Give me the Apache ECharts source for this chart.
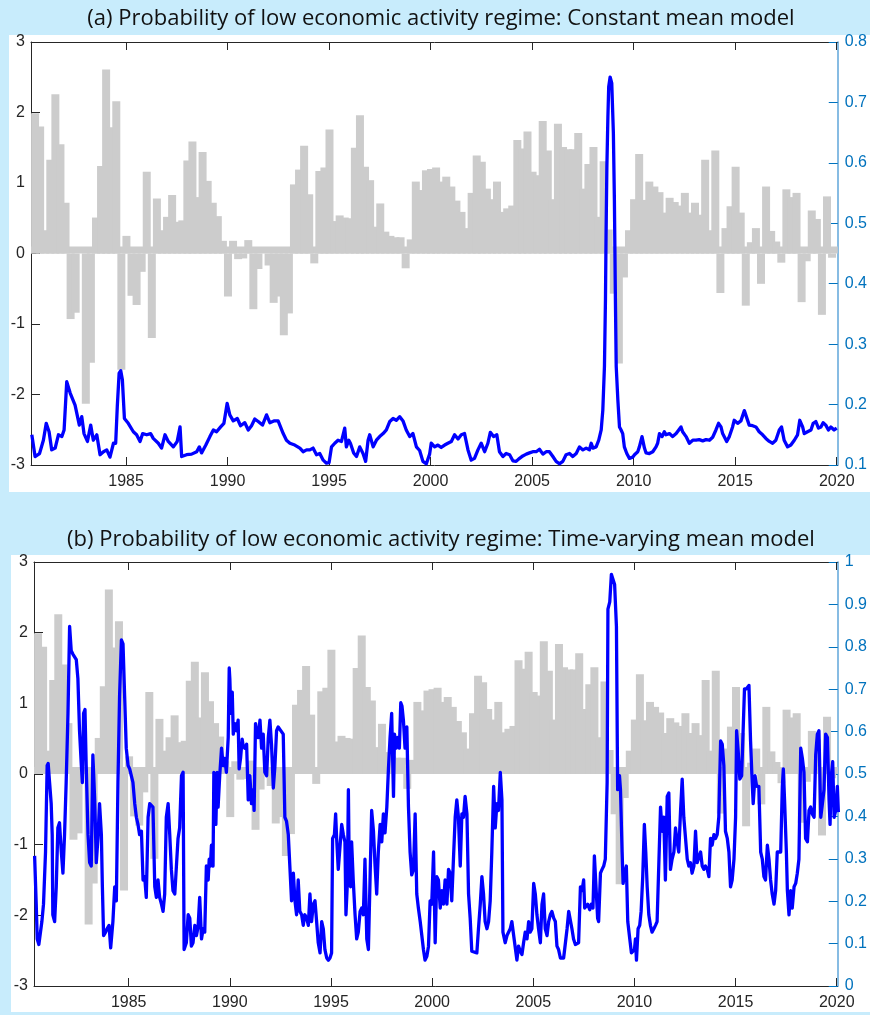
<!DOCTYPE html>
<html>
<head>
<meta charset="utf-8">
<script src="https://cdn.jsdelivr.net/npm/echarts@6/dist/echarts.min.js"></script>
<style>
html, body { margin: 0; padding: 0; background: #c8ecfc; }
#bgA { position: absolute; left: 9px; top: 35px; width: 861px; height: 457px; background: #fff; }
#bgB { position: absolute; left: 11px; top: 555px; width: 859px; height: 457px; background: #fff; }
#main { position: absolute; left: 0; top: 0; width: 870px; height: 1015px; }
</style>
</head>
<body>
<div id="bgA"></div>
<div id="bgB"></div>
<div id="main"></div>
<script>
// quarterly bars (left axis), first bar centre and spacing in years
var barStart = 1980.52;
var barStep = 0.25;
var barValues = [
  1.99, 1.80, 0.33, 1.33, 2.26, 1.55, 0.72, -0.93, -0.84, 0.00,
  -2.13, -1.55, 0.51, 1.24, 2.61, 1.79, 2.16, -1.65, 0.25, -0.60,
  -0.73, -0.26, 1.16, -1.20, 0.78, 0.33, 0.52, 0.83, 0.45, 0.47,
  1.32, 1.59, 0.80, 1.44, 1.03, 0.72, 0.53, 0.18, -0.61, 0.18,
  -0.08, -0.07, 0.19, -0.79, -0.22, 0.00, -0.17, -0.70, -0.61, -1.16,
  -0.85, 0.98, 1.19, 1.53, 0.84, -0.14, 1.17, 1.22, 1.76, 0.46,
  0.54, 0.51, 0.50, 1.50, 1.96, 1.23, 1.04, 0.38, 0.71, 0.31,
  0.25, 0.23, 0.23, -0.21, 0.20, 1.02, 0.90, 1.18, 1.20, 1.22,
  1.02, 1.09, 0.95, 0.75, 0.59, 0.36, 0.86, 1.39, 1.30, 0.92,
  0.77, 1.02, 0.59, 0.64, 0.68, 1.61, 1.49, 1.73, 1.16, 1.11,
  1.88, 1.46, 0.77, 1.84, 1.51, 1.48, 1.48, 1.71, 0.92, 1.27,
  1.51, 0.52, 1.31, 0.34, -0.57, -1.56, -0.34, 0.33, 0.77, 1.41,
  0.76, 1.02, 0.95, 0.87, 0.58, 0.79, 0.73, 0.68, 0.86, 0.58,
  0.72, 0.55, 1.33, 0.33, 1.46, -0.56, 0.36, 0.67, 1.23, 0.58,
  -0.74, 0.16, 0.36, -0.43, 0.95, 0.32, 0.17, -0.13, 0.91, 0.80,
  0.86, -0.69, -0.11, 0.61, 0.49, -0.87, 0.81, -0.06
];

// probability, constant mean model (right axis, panel a)
var probConst = [
  [1980.36,0.150],[1980.52,0.114],[1980.74,0.119],[1980.93,0.141],[1981.07,0.169],[1981.21,0.155],[1981.34,0.125],[1981.51,0.128],[1981.67,0.150],[1981.84,0.147],
  [1981.95,0.158],[1982.08,0.238],[1982.25,0.219],[1982.49,0.199],[1982.70,0.166],[1982.82,0.180],[1982.93,0.152],[1983.10,0.139],[1983.26,0.166],[1983.39,0.141],
  [1983.56,0.150],[1983.72,0.117],[1983.89,0.122],[1984.05,0.125],[1984.21,0.113],[1984.38,0.136],[1984.49,0.136],[1984.57,0.197],[1984.66,0.252],[1984.74,0.256],
  [1984.82,0.241],[1984.92,0.177],[1985.11,0.169],[1985.36,0.155],[1985.52,0.150],[1985.69,0.139],[1985.82,0.152],[1986.02,0.150],[1986.21,0.152],[1986.34,0.144],
  [1986.59,0.136],[1986.75,0.128],[1986.92,0.150],[1987.00,0.152],[1987.08,0.139],[1987.33,0.130],[1987.52,0.139],[1987.66,0.163],[1987.74,0.114],[1987.98,0.117],
  [1988.23,0.118],[1988.48,0.122],[1988.61,0.130],[1988.72,0.120],[1988.93,0.133],[1989.13,0.147],[1989.30,0.158],[1989.46,0.155],[1989.66,0.163],[1989.82,0.169],
  [1989.98,0.202],[1990.11,0.183],[1990.28,0.173],[1990.48,0.177],[1990.64,0.165],[1990.85,0.170],[1991.02,0.158],[1991.18,0.165],[1991.34,0.176],[1991.51,0.172],
  [1991.72,0.166],[1991.92,0.183],[1992.08,0.170],[1992.28,0.173],[1992.49,0.173],[1992.74,0.152],[1992.90,0.141],[1993.07,0.136],[1993.31,0.133],[1993.56,0.128],
  [1993.72,0.122],[1993.89,0.125],[1994.05,0.125],[1994.21,0.128],[1994.38,0.117],[1994.54,0.119],[1994.71,0.108],[1994.87,0.103],[1995.00,0.104],[1995.12,0.130],
  [1995.28,0.136],[1995.44,0.141],[1995.61,0.139],[1995.77,0.161],[1995.85,0.130],[1995.97,0.141],[1996.05,0.136],[1996.21,0.120],[1996.35,0.114],[1996.51,0.130],
  [1996.67,0.119],[1996.80,0.106],[1996.92,0.141],[1997.00,0.150],[1997.17,0.130],[1997.33,0.141],[1997.49,0.147],[1997.66,0.152],[1997.82,0.158],[1997.99,0.172],
  [1998.15,0.177],[1998.31,0.174],[1998.48,0.180],[1998.64,0.173],[1998.80,0.158],[1998.97,0.147],[1999.13,0.152],[1999.30,0.130],[1999.46,0.124],[1999.62,0.106],
  [1999.79,0.102],[1999.95,0.118],[2000.03,0.136],[2000.20,0.130],[2000.36,0.133],[2000.52,0.129],[2000.69,0.133],[2000.85,0.136],[2001.02,0.139],[2001.18,0.150],
  [2001.35,0.143],[2001.51,0.150],[2001.67,0.152],[2001.84,0.125],[2002.00,0.108],[2002.16,0.111],[2002.33,0.125],[2002.49,0.136],[2002.66,0.122],[2002.82,0.136],
  [2002.94,0.154],[2003.10,0.147],[2003.26,0.150],[2003.39,0.122],[2003.56,0.114],[2003.72,0.119],[2003.89,0.117],[2004.05,0.107],[2004.21,0.106],[2004.38,0.111],
  [2004.54,0.115],[2004.71,0.118],[2004.87,0.120],[2005.03,0.122],[2005.20,0.122],[2005.36,0.126],[2005.53,0.118],[2005.69,0.122],[2005.85,0.122],[2006.02,0.114],
  [2006.18,0.106],[2006.34,0.102],[2006.51,0.106],[2006.67,0.117],[2006.84,0.119],[2007.00,0.114],[2007.17,0.119],[2007.33,0.130],[2007.50,0.125],[2007.66,0.128],
  [2007.82,0.125],[2007.91,0.136],[2007.99,0.128],[2008.15,0.130],[2008.28,0.141],[2008.40,0.158],[2008.48,0.191],[2008.56,0.263],[2008.61,0.373],[2008.64,0.483],
  [2008.68,0.594],[2008.73,0.676],[2008.77,0.726],[2008.84,0.742],[2008.92,0.732],[2009.00,0.649],[2009.05,0.539],[2009.10,0.373],[2009.14,0.263],[2009.22,0.208],
  [2009.30,0.163],[2009.38,0.158],[2009.46,0.152],[2009.54,0.130],[2009.66,0.119],[2009.79,0.111],[2009.87,0.108],[2009.95,0.113],[2010.04,0.117],[2010.12,0.119],
  [2010.20,0.122],[2010.28,0.130],[2010.41,0.147],[2010.53,0.128],[2010.61,0.120],[2010.77,0.119],[2010.94,0.122],[2011.10,0.130],[2011.18,0.136],[2011.27,0.152],
  [2011.40,0.147],[2011.51,0.155],[2011.59,0.150],[2011.76,0.152],[2011.92,0.147],[2012.09,0.152],[2012.22,0.158],[2012.33,0.163],[2012.41,0.155],[2012.58,0.147],
  [2012.74,0.136],[2012.91,0.141],[2013.07,0.141],[2013.23,0.142],[2013.40,0.140],[2013.56,0.142],[2013.73,0.141],[2013.89,0.146],[2014.05,0.158],[2014.18,0.169],
  [2014.30,0.163],[2014.38,0.152],[2014.46,0.150],[2014.58,0.139],[2014.71,0.147],[2014.87,0.163],[2014.95,0.174],[2015.12,0.169],[2015.28,0.173],[2015.45,0.190],
  [2015.53,0.188],[2015.69,0.166],[2015.86,0.165],[2016.02,0.163],[2016.18,0.155],[2016.35,0.150],[2016.51,0.144],[2016.68,0.139],[2016.84,0.136],[2017.00,0.141],
  [2017.17,0.158],[2017.28,0.163],[2017.41,0.141],[2017.58,0.130],[2017.74,0.133],[2017.91,0.141],[2018.07,0.150],[2018.18,0.174],[2018.32,0.163],[2018.40,0.152],
  [2018.56,0.155],[2018.73,0.158],[2018.84,0.169],[2018.97,0.172],[2019.10,0.161],[2019.22,0.163],[2019.33,0.170],[2019.46,0.166],[2019.59,0.158],[2019.71,0.163],
  [2019.87,0.158],[2020.00,0.161]
];

// probability, time-varying mean model (right axis, panel b)
var probTv = [
  [1980.35,0.307],[1980.43,0.193],[1980.48,0.111],[1980.56,0.098],[1980.63,0.102],[1980.71,0.152],[1980.79,0.193],[1980.89,0.316],[1980.97,0.520],[1981.02,0.525],
  [1981.09,0.480],[1981.17,0.430],[1981.22,0.357],[1981.25,0.168],[1981.34,0.152],[1981.42,0.234],[1981.50,0.373],[1981.58,0.385],[1981.67,0.316],[1981.75,0.266],
  [1981.83,0.357],[1981.91,0.480],[1982.00,0.643],[1982.08,0.848],[1982.16,0.791],[1982.24,0.783],[1982.41,0.770],[1982.49,0.725],[1982.57,0.602],[1982.66,0.520],
  [1982.71,0.480],[1982.77,0.643],[1982.84,0.652],[1982.90,0.520],[1982.99,0.357],[1983.07,0.291],[1983.15,0.283],[1983.23,0.545],[1983.32,0.439],[1983.40,0.291],
  [1983.48,0.348],[1983.56,0.430],[1983.65,0.357],[1983.70,0.234],[1983.76,0.119],[1983.86,0.127],[1983.93,0.135],[1984.03,0.143],[1984.11,0.090],[1984.22,0.152],
  [1984.31,0.234],[1984.39,0.201],[1984.47,0.480],[1984.55,0.684],[1984.64,0.816],[1984.72,0.807],[1984.80,0.684],[1984.88,0.561],[1984.97,0.520],[1985.05,0.512],
  [1985.13,0.496],[1985.21,0.480],[1985.30,0.430],[1985.38,0.398],[1985.46,0.381],[1985.54,0.357],[1985.63,0.365],[1985.71,0.250],[1985.79,0.258],[1985.87,0.209],
  [1985.96,0.398],[1986.04,0.430],[1986.20,0.422],[1986.29,0.234],[1986.37,0.209],[1986.45,0.250],[1986.53,0.209],[1986.62,0.193],[1986.70,0.176],[1986.78,0.217],
  [1986.86,0.398],[1986.95,0.430],[1987.03,0.357],[1987.11,0.275],[1987.19,0.225],[1987.28,0.217],[1987.36,0.283],[1987.44,0.348],[1987.52,0.373],[1987.61,0.496],
  [1987.69,0.504],[1987.74,0.086],[1987.85,0.102],[1987.94,0.168],[1988.02,0.160],[1988.10,0.094],[1988.18,0.102],[1988.27,0.143],[1988.35,0.119],[1988.43,0.139],
  [1988.51,0.209],[1988.60,0.111],[1988.68,0.135],[1988.76,0.127],[1988.84,0.283],[1988.93,0.250],[1988.98,0.299],[1989.04,0.283],[1989.09,0.332],[1989.17,0.283],
  [1989.21,0.504],[1989.31,0.381],[1989.37,0.504],[1989.42,0.422],[1989.50,0.496],[1989.59,0.561],[1989.67,0.520],[1989.75,0.537],[1989.83,0.504],[1989.92,0.586],
  [1989.97,0.750],[1990.00,0.725],[1990.05,0.643],[1990.12,0.693],[1990.17,0.594],[1990.25,0.619],[1990.33,0.602],[1990.41,0.627],[1990.46,0.512],[1990.53,0.537],
  [1990.61,0.582],[1990.66,0.566],[1990.74,0.561],[1990.83,0.570],[1990.91,0.439],[1990.99,0.496],[1991.07,0.430],[1991.16,0.463],[1991.20,0.414],[1991.27,0.619],
  [1991.32,0.602],[1991.40,0.586],[1991.49,0.627],[1991.57,0.561],[1991.65,0.594],[1991.73,0.504],[1991.82,0.496],[1991.90,0.586],[1991.98,0.627],[1992.06,0.570],
  [1992.15,0.467],[1992.23,0.520],[1992.31,0.602],[1992.39,0.611],[1992.48,0.611],[1992.64,0.594],[1992.72,0.398],[1992.80,0.389],[1992.89,0.357],[1992.97,0.361],
  [1993.05,0.201],[1993.14,0.266],[1993.22,0.201],[1993.30,0.168],[1993.38,0.250],[1993.46,0.176],[1993.55,0.168],[1993.63,0.143],[1993.71,0.168],[1993.80,0.160],
  [1993.88,0.143],[1993.96,0.217],[1994.04,0.152],[1994.13,0.193],[1994.21,0.201],[1994.29,0.152],[1994.37,0.102],[1994.46,0.078],[1994.54,0.152],[1994.62,0.135],
  [1994.70,0.086],[1994.79,0.066],[1994.87,0.061],[1994.95,0.066],[1995.03,0.078],[1995.08,0.348],[1995.17,0.357],[1995.23,0.406],[1995.28,0.348],[1995.36,0.275],
  [1995.45,0.275],[1995.53,0.381],[1995.61,0.357],[1995.69,0.340],[1995.74,0.168],[1995.81,0.242],[1995.86,0.463],[1995.91,0.242],[1995.97,0.234],[1996.02,0.340],
  [1996.10,0.250],[1996.19,0.168],[1996.27,0.111],[1996.35,0.127],[1996.44,0.176],[1996.52,0.184],[1996.60,0.168],[1996.68,0.299],[1996.77,0.111],[1996.85,0.086],
  [1996.93,0.250],[1997.01,0.414],[1997.10,0.365],[1997.18,0.283],[1997.26,0.217],[1997.34,0.316],[1997.43,0.381],[1997.51,0.340],[1997.59,0.406],[1997.67,0.361],
  [1997.76,0.422],[1997.84,0.512],[1997.92,0.586],[1998.00,0.643],[1998.09,0.447],[1998.14,0.594],[1998.22,0.561],[1998.30,0.586],[1998.38,0.561],[1998.45,0.668],
  [1998.51,0.660],[1998.58,0.627],[1998.66,0.561],[1998.75,0.611],[1998.83,0.422],[1998.91,0.316],[1998.99,0.262],[1999.08,0.275],[1999.16,0.406],[1999.24,0.217],
  [1999.32,0.184],[1999.41,0.152],[1999.49,0.119],[1999.57,0.086],[1999.65,0.061],[1999.74,0.070],[1999.82,0.094],[1999.90,0.201],[1999.98,0.193],[2000.07,0.316],
  [2000.15,0.102],[2000.23,0.258],[2000.31,0.250],[2000.40,0.184],[2000.48,0.225],[2000.56,0.193],[2000.64,0.250],[2000.73,0.193],[2000.81,0.275],[2000.89,0.266],
  [2000.97,0.201],[2001.06,0.307],[2001.14,0.398],[2001.22,0.439],[2001.30,0.398],[2001.39,0.283],[2001.47,0.406],[2001.55,0.398],[2001.63,0.447],[2001.72,0.406],
  [2001.80,0.217],[2001.88,0.160],[2001.96,0.082],[2002.05,0.086],[2002.21,0.078],[2002.29,0.135],[2002.38,0.193],[2002.46,0.258],[2002.54,0.217],[2002.62,0.152],
  [2002.71,0.135],[2002.79,0.152],[2002.87,0.201],[2002.95,0.316],[2003.04,0.471],[2003.12,0.373],[2003.20,0.430],[2003.28,0.414],[2003.37,0.504],[2003.45,0.439],
  [2003.50,0.127],[2003.61,0.102],[2003.70,0.119],[2003.78,0.119],[2003.86,0.135],[2003.94,0.152],[2004.03,0.119],[2004.11,0.119],[2004.19,0.061],[2004.27,0.094],
  [2004.36,0.082],[2004.44,0.074],[2004.52,0.102],[2004.60,0.127],[2004.69,0.111],[2004.77,0.152],[2004.85,0.127],[2004.93,0.135],[2005.02,0.242],[2005.10,0.217],
  [2005.18,0.168],[2005.26,0.135],[2005.35,0.102],[2005.43,0.193],[2005.51,0.217],[2005.59,0.135],[2005.68,0.119],[2005.76,0.152],[2005.84,0.168],[2005.92,0.176],
  [2006.01,0.160],[2006.09,0.152],[2006.17,0.094],[2006.25,0.086],[2006.34,0.066],[2006.42,0.070],[2006.50,0.066],[2006.58,0.066],[2006.67,0.135],[2006.75,0.176],
  [2006.91,0.135],[2006.99,0.111],[2007.08,0.098],[2007.16,0.094],[2007.24,0.102],[2007.33,0.234],[2007.41,0.225],[2007.49,0.250],[2007.54,0.184],[2007.61,0.184],
  [2007.69,0.193],[2007.79,0.180],[2007.87,0.193],[2007.95,0.184],[2008.02,0.307],[2008.10,0.234],[2008.18,0.160],[2008.23,0.152],[2008.32,0.266],[2008.40,0.275],
  [2008.48,0.283],[2008.56,0.299],[2008.65,0.480],[2008.69,0.889],[2008.78,0.906],[2008.86,0.971],[2008.94,0.971],[2009.02,0.947],[2009.11,0.848],[2009.17,0.463],
  [2009.26,0.496],[2009.31,0.463],[2009.39,0.316],[2009.44,0.242],[2009.52,0.266],[2009.60,0.283],[2009.67,0.152],[2009.77,0.111],[2009.85,0.078],[2009.93,0.074],
  [2010.00,0.086],[2010.05,0.111],[2010.10,0.061],[2010.18,0.135],[2010.26,0.143],[2010.33,0.176],[2010.41,0.258],[2010.49,0.381],[2010.56,0.316],[2010.63,0.234],
  [2010.71,0.168],[2010.79,0.143],[2010.87,0.127],[2010.96,0.135],[2011.04,0.143],[2011.12,0.152],[2011.20,0.152],[2011.29,0.422],[2011.37,0.365],[2011.45,0.398],
  [2011.53,0.250],[2011.62,0.447],[2011.70,0.455],[2011.78,0.275],[2011.86,0.299],[2011.95,0.316],[2012.03,0.373],[2012.11,0.340],[2012.19,0.316],[2012.28,0.414],
  [2012.36,0.488],[2012.44,0.398],[2012.52,0.398],[2012.61,0.299],[2012.69,0.283],[2012.77,0.291],[2012.85,0.266],[2012.94,0.283],[2013.02,0.365],[2013.10,0.291],
  [2013.18,0.291],[2013.27,0.316],[2013.35,0.283],[2013.43,0.275],[2013.51,0.283],[2013.60,0.275],[2013.68,0.258],[2013.76,0.348],[2013.84,0.332],[2013.93,0.357],
  [2014.01,0.348],[2014.09,0.357],[2014.17,0.398],[2014.26,0.578],[2014.34,0.570],[2014.42,0.520],[2014.50,0.365],[2014.59,0.348],[2014.67,0.316],[2014.75,0.234],
  [2014.83,0.250],[2014.92,0.299],[2015.00,0.398],[2015.05,0.602],[2015.13,0.553],[2015.21,0.488],[2015.30,0.496],[2015.38,0.496],[2015.44,0.701],[2015.54,0.701],
  [2015.66,0.709],[2015.74,0.578],[2015.82,0.480],[2015.87,0.430],[2015.96,0.496],[2016.04,0.471],[2016.15,0.471],[2016.24,0.316],[2016.32,0.299],[2016.40,0.258],
  [2016.48,0.250],[2016.57,0.332],[2016.65,0.299],[2016.73,0.250],[2016.81,0.217],[2016.90,0.193],[2016.98,0.225],[2017.06,0.316],[2017.14,0.316],[2017.23,0.316],
  [2017.31,0.471],[2017.36,0.512],[2017.42,0.439],[2017.51,0.316],[2017.56,0.225],[2017.64,0.168],[2017.72,0.225],[2017.80,0.184],[2017.89,0.234],[2017.97,0.242],
  [2018.05,0.266],[2018.13,0.299],[2018.22,0.561],[2018.30,0.537],[2018.38,0.504],[2018.46,0.348],[2018.55,0.340],[2018.63,0.414],[2018.71,0.422],[2018.79,0.406],
  [2018.88,0.398],[2018.96,0.545],[2019.04,0.594],[2019.12,0.602],[2019.21,0.398],[2019.29,0.430],[2019.37,0.463],[2019.45,0.594],[2019.54,0.586],[2019.62,0.439],
  [2019.67,0.381],[2019.73,0.496],[2019.80,0.529],[2019.87,0.398],[2019.95,0.414],[2020.03,0.471],[2020.08,0.410]
];

var yearTicks = [1985, 1990, 1995, 2000, 2005, 2010, 2015, 2020];
var titleA = '(a) Probability of low economic activity regime: Constant mean model';
var titleB = '(b) Probability of low economic activity regime: Time-varying mean model';

var barData = barValues.map(function (v, i) { return [barStart + i * barStep, v]; });

var axisGrey = '#262626';
var rightBlue = '#0072bd';
var xMin = 1980.32, xMax = 2020.05;

var myChart = echarts.init(document.getElementById('main'));
var option;

function bottomX(g) {
    return {
        type: 'value', gridIndex: g, min: xMin, max: xMax, position: 'bottom',
        axisLine: { onZero: false, lineStyle: { color: axisGrey, width: 1 } },
        axisTick: { inside: true, length: 8, customValues: yearTicks, lineStyle: { color: axisGrey } },
        axisLabel: {
            customValues: yearTicks, color: axisGrey, fontFamily: 'Liberation Sans', fontSize: 16, margin: 9,
            formatter: function (v) { return String(v); }
        },
        splitLine: { show: false }
    };
}
function topX(g) {
    return {
        type: 'value', gridIndex: g, min: xMin, max: xMax, position: 'top',
        axisLine: { onZero: false, lineStyle: { color: axisGrey, width: 1 } },
        axisTick: { inside: true, length: 8, customValues: yearTicks, lineStyle: { color: axisGrey } },
        axisLabel: { show: false },
        splitLine: { show: false }
    };
}
function leftY(g) {
    return {
        type: 'value', gridIndex: g, min: -3, max: 3, interval: 1, position: 'left',
        axisLine: { show: true, onZero: false, lineStyle: { color: axisGrey, width: 1 } },
        axisTick: { show: true, inside: true, length: 9, lineStyle: { color: axisGrey } },
        axisLabel: { color: axisGrey, fontFamily: 'Liberation Sans', fontSize: 16, margin: 6 },
        splitLine: { show: false }
    };
}
function rightY(g, lo, hi) {
    return {
        type: 'value', gridIndex: g, min: lo, max: hi, interval: 0.1, position: 'right',
        axisLine: { show: true, onZero: false, lineStyle: { color: '#5fa6da', width: 1.5 } },
        axisTick: { show: true, inside: true, length: 9, lineStyle: { color: rightBlue } },
        axisLabel: {
            color: rightBlue, fontFamily: 'Liberation Sans', fontSize: 16, margin: 7,
            formatter: function (v) { return String(Math.round(v * 10) / 10); }
        },
        splitLine: { show: false }
    };
}
function barSeries(xi, yi) {
    return {
        type: 'bar', xAxisIndex: xi, yAxisIndex: yi, data: barData, barWidth: 8,
        itemStyle: { color: '#cccccc' }, silent: true,
        markArea: { silent: true, itemStyle: { color: '#cccccc', opacity: 1 }, data: [[{ yAxis: 0 }, { yAxis: 0.1 }]] }
    };
}
function lineSeries(xi, yi, data) {
    return {
        type: 'line', xAxisIndex: xi, yAxisIndex: yi, data: data, showSymbol: false, z: 5,
        lineStyle: { color: '#0000ff', width: 3.3, join: 'round' }, silent: true
    };
}

option = {
    animation: false,
    title: [
        { text: titleA, left: 441, top: 8, textAlign: 'center', padding: 0,
          textStyle: { fontFamily: 'Open Sans', fontSize: 22, fontWeight: 'normal', color: '#111' } },
        { text: titleB, left: 441, top: 529, textAlign: 'center', padding: 0,
          textStyle: { fontFamily: 'Open Sans', fontSize: 22, fontWeight: 'normal', color: '#111' } }
    ],
    grid: [
        { left: 31, top: 42, width: 807, height: 423 },
        { left: 34, top: 562, width: 804, height: 424 }
    ],
    xAxis: [bottomX(0), topX(0), bottomX(1), topX(1)],
    yAxis: [leftY(0), rightY(0, 0.1, 0.8), leftY(1), rightY(1, 0, 1)],
    series: [
        barSeries(0, 0),
        lineSeries(0, 1, probConst),
        barSeries(2, 2),
        lineSeries(2, 3, probTv)
    ]
};
option && myChart.setOption(option);
</script>
</body>
</html>
